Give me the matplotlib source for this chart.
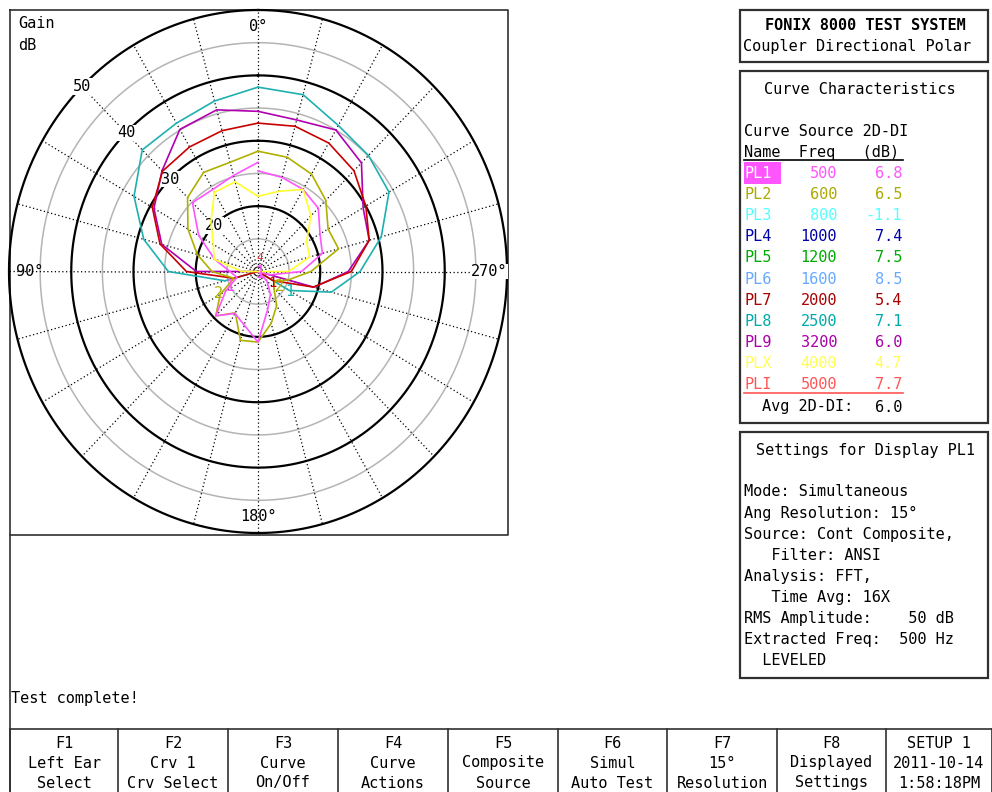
import matplotlib.pyplot as plt
import numpy as np
from matplotlib.patches import Rectangle

plt.rcParams['font.family'] = ['DejaVu Sans Mono']
FS = 11

# polar data: gain in dB every 15 degrees, 0..360 (last point closes the curve)
angles = np.arange(0, 361, 15)
pl1 = [26.7, 25.2, 24.5, 24.9, 21.0, 17.2, 14.5, 13.5, 16.0, 19.6, 17.4, 18.5, 20.8,
       16.0, 14.0, 12.0, 10.0, 12.0, 17.0, 20.7, 21.5, 23.7, 24.5, 24.9, 25.4]
pl2 = [28.4, 27.3, 27.5, 26.0, 23.0, 20.1, 17.4, 14.0, 17.0, 19.6, 17.3, 20.9, 20.8,
       18.2, 16.0, 13.6, 13.0, 15.0, 18.5, 23.4, 23.0, 25.4, 27.2, 28.1, 28.4]
pl7 = [32.7, 32.3, 32.0, 31.7, 29.6, 26.3, 21.5, 14.0, 10.0, 10.0, 10.0, 10.0, 10.0,
       10.0, 10.0, 10.0, 12.8, 19.2, 25.0, 28.5, 30.0, 31.8, 32.7, 33.0, 32.7]
pl8 = [38.2, 37.0, 36.2, 36.3, 33.0, 29.0, 24.4, 15.5, 10.0, 10.0, 10.0, 10.0, 10.0,
       10.0, 10.0, 10.0, 15.8, 22.2, 26.4, 30.5, 34.3, 35.1, 35.8, 38.0, 38.2]
pl9 = [34.5, 35.6, 35.1, 31.8, 29.3, 26.0, 19.9, 10.0, 10.0, 10.0, 10.0, 10.0, 10.0,
       10.0, 10.0, 10.0, 10.0, 19.3, 24.5, 28.5, 29.5, 33.5, 35.0, 34.0, 34.5]
plx = [21.5, 24.2, 24.0, 20.7, 18.3, 17.3, 12.6, 10.0, 10.0, 10.0, 10.0, 10.0, 10.0,
       10.0, 10.0, 10.0, 10.0, 10.0, 14.9, 18.6, 19.0, 22.0, 24.5, 22.7, 21.5]

plotted = [pl8, pl9, pl7, pl2, pl1, plx]
plotted_colors = ['#1fb0b0', '#b000b0', '#c80000', '#b0b000', '#ff55ff', '#ffff30']

# curve number tags near the centre: text, angle (deg), gain, colour, size
tag_text = ['1', '4', '1', '2', '1', '2', '1']
tag_angle = [240, 351, 231, 237, 239, 118, 117]
tag_gain = [10.4, 12.1, 12.9, 14.2, 16.0, 17.2, 15.1]
tag_color = ['#ff55ff', '#e03030', '#c80000', '#b0b000', '#1fb0b0', '#b0b000', '#ff55ff']
tag_size = [13, 8, 10, 11, 11, 11, 11]

# curve table
curve_names = ['PL1', 'PL2', 'PL3', 'PL4', 'PL5', 'PL6', 'PL7', 'PL8', 'PL9', 'PLX', 'PLI']
source_freq = [500, 600, 800, 1000, 1200, 1600, 2000, 2500, 3200, 4000, 5000]
di_2d = ['6.8', '6.5', '-1.1', '7.4', '7.5', '8.5', '5.4', '7.1', '6.0', '4.7', '7.7']
curve_colors = ['#ff55ff', '#aaaa00', '#55ffff', '#0000aa', '#00aa00', '#66aaff',
                '#aa0000', '#00aaaa', '#aa00aa', '#ffff55', '#ff5555']
avg_di = '6.0'

settings_lines = ['Mode: Simultaneous', 'Ang Resolution: 15°', 'Source: Cont Composite,',
                  '   Filter: ANSI', 'Analysis: FFT,', '   Time Avg: 16X',
                  'RMS Amplitude:    50 dB', 'Extracted Freq:  500 Hz', '  LEVELED']

buttons = [('F1', 'Left Ear', 'Select'), ('F2', 'Crv 1', 'Crv Select'),
           ('F3', 'Curve', 'On/Off'), ('F4', 'Curve', 'Actions'),
           ('F5', 'Composite', 'Source'), ('F6', 'Simul', 'Auto Test'),
           ('F7', '15°', 'Resolution'), ('F8', 'Displayed', 'Settings'),
           ('SETUP 1', '2011-10-14', '1:58:18PM')]
button_edges = [10, 118, 228, 338, 448, 558, 667, 777, 886, 992]

fig = plt.figure(figsize=(9.92, 7.92), dpi=100)

# screen layer in pixel coordinates
scr = fig.add_axes([0, 0, 1, 1])
scr.set_xlim(0, 992)
scr.set_ylim(792, 0)
scr.axis('off')

# polar plot (slightly stretched vertically like the instrument screen)
ax = fig.add_axes([9 / 992, 1 - 533 / 792, 498 / 992, 523 / 792], projection='polar')
ax.set_aspect('auto')
ax.set_theta_zero_location('N')
ax.set_theta_direction(1)
ax.set_rlim(10, 50)
ax.grid(False)
ax.set_xticks([])
ax.set_yticks([])
ax.spines['polar'].set_visible(False)
ax.patch.set_alpha(0)

ring = np.linspace(0, 2 * np.pi, 721)
for r in [15, 25, 35, 45]:
    ax.plot(ring, np.full_like(ring, r), color='#b4b4b4', lw=1.1, zorder=1)
for r in [20, 30, 40, 50]:
    ax.plot(ring, np.full_like(ring, r), color='black', lw=1.6, zorder=1, clip_on=False)
for a in np.deg2rad(np.arange(0, 360, 15)):
    ax.plot([a, a], [10, 50], color='black', lw=0.9, ls=(0, (1, 2)), zorder=1)

for lab in ['20', '30', '40', '50']:
    ax.text(np.deg2rad(45), float(lab), lab, ha='center', va='center', fontsize=FS,
            bbox=dict(fc='white', ec='none', pad=0.5), zorder=2)
ax.text(0, 47.5, '0°', ha='center', va='center', fontsize=FS, zorder=2)
ax.text(np.pi / 2, 46.6, '90°', ha='center', va='center', fontsize=FS, zorder=2)
ax.text(np.pi, 47.5, '180°', ha='center', va='center', fontsize=FS, zorder=2)
ax.text(3 * np.pi / 2, 47.1, '270°', ha='center', va='center', fontsize=FS,
        bbox=dict(fc='white', ec='none', pad=0.3), zorder=2)

th = np.deg2rad(angles)
for vals, c in zip(plotted, plotted_colors):
    ax.plot(th, vals, color=c, lw=1.2, zorder=3)

for t, a, r, c, fs in zip(tag_text, tag_angle, tag_gain, tag_color, tag_size):
    ax.text(np.deg2rad(a), r, t, color=c, fontsize=fs, ha='center', va='center', zorder=4)

# plot frame
scr.plot([10, 508, 508, 10, 10], [10, 10, 535, 535, 10], color='#303030', lw=1.2)
scr.text(18, 24, 'Gain', fontsize=FS, va='center')
scr.text(18, 45, 'dB', fontsize=FS, va='center')

# right side boxes
for y0, y1 in [(10, 62), (71, 423), (432, 678)]:
    scr.add_patch(Rectangle((739.5, y0), 248.5, y1 - y0, fill=False, ec='#303030', lw=1.6))

scr.text(865, 25, 'FONIX 8000 TEST SYSTEM', fontsize=FS, fontweight='bold',
         ha='center', va='center')
scr.text(743, 47, 'Coupler Directional Polar', fontsize=FS, va='center')

scr.text(860, 89, 'Curve Characteristics', fontsize=FS, ha='center', va='center')
scr.text(744, 131, 'Curve Source 2D-DI', fontsize=FS, va='center')
scr.text(744, 152, 'Name  Freq   (dB)', fontsize=FS, va='center')
scr.plot([744, 903], [160, 160], color='black', lw=1.2)

row_y = 173
for name, f, d, c in zip(curve_names, source_freq, di_2d, curve_colors):
    if name == 'PL1':
        scr.add_patch(Rectangle((744, row_y - 11), 37, 22, color=c, lw=0))
        scr.text(745, row_y, name, fontsize=FS, va='center', color='white')
    else:
        scr.text(745, row_y, name, fontsize=FS, va='center', color=c)
    scr.text(837, row_y, str(f), fontsize=FS, va='center', ha='right', color=c)
    scr.text(902, row_y, d, fontsize=FS, va='center', ha='right', color=c)
    row_y += 21.2
scr.plot([744, 903], [393, 393], color=curve_colors[-1], lw=1.2)
scr.text(762, 407, 'Avg 2D-DI:', fontsize=FS, va='center')
scr.text(902, 407, avg_di, fontsize=FS, va='center', ha='right')

scr.text(865, 451, 'Settings for Display PL1', fontsize=FS, ha='center', va='center')
for i, line in enumerate(settings_lines):
    scr.text(744, 492 + i * 21.1, line, fontsize=FS, va='center')

# status line and function keys
scr.plot([10, 10], [535, 792], color='#303030', lw=1.2)
scr.text(11, 698, 'Test complete!', fontsize=FS, va='center')
scr.plot([10, 992], [729, 729], color='#303030', lw=1.2)
for x in button_edges:
    scr.plot([x, x], [729, 792], color='#303030', lw=1.2)
for i, (l1, l2, l3) in enumerate(buttons):
    xc = (button_edges[i] + button_edges[i + 1]) / 2
    for y, s in zip([744, 763, 783], [l1, l2, l3]):
        scr.text(xc, y, s, fontsize=FS, ha='center', va='center')

fig.savefig('out.png', dpi=100)
